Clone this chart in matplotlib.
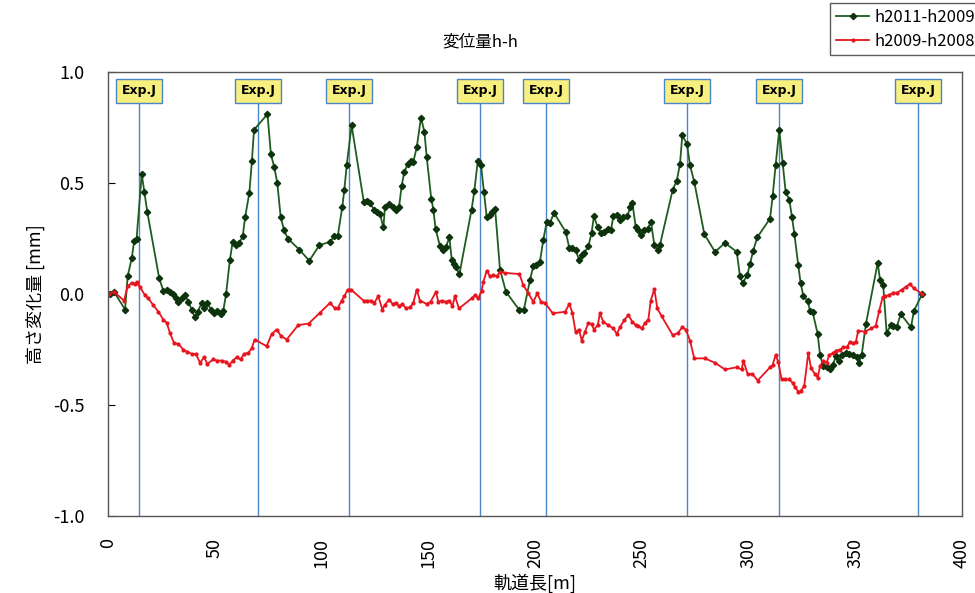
import matplotlib
matplotlib.use('Agg')
import matplotlib.pyplot as plt

plt.rcParams['font.family'] = ['Noto Sans CJK JP', 'DejaVu Sans']

# h2011-h2009
green_x = [0.9, 2.8, 8.0, 9.2, 11.1, 12.3, 13.4, 15.8, 17.0, 18.4, 24.0, 25.9, 27.5, 29.0, 30.3,
           31.9, 32.9, 34.5, 36.1, 37.6, 39.2, 40.7, 42.0, 43.9, 45.1, 46.5, 48.2, 49.6, 51.2, 52.8,
           54.0, 55.3, 57.1, 58.4, 59.8, 61.5, 63.1, 64.2, 66.2, 67.4, 68.4, 74.7, 76.3, 77.9, 79.3,
           80.9, 82.4, 84.2, 89.6, 94.3, 99.0, 104.0, 105.9, 107.6, 109.7, 110.7, 111.8, 114.1, 119.8,
           121.2, 122.7, 124.6, 125.8, 127.4, 129.0, 129.7, 131.6, 133.3, 134.7, 136.3, 137.5, 138.8,
           140.4, 141.8, 143.0, 144.6, 146.6, 148.2, 149.3, 151.4, 152.4, 153.4, 155.5, 156.8, 158.2,
           159.9, 161.0, 162.1, 163.0, 164.6, 170.3, 171.6, 173.2, 174.7, 176.1, 177.4, 178.9, 180.0,
           181.3, 183.6, 186.4, 192.5, 194.8, 197.7, 199.2, 200.5, 202.3, 203.9, 205.5, 207.0, 208.9,
           214.4, 216.1, 217.5, 219.0, 220.6, 221.9, 223.1, 225.0, 226.5, 227.6, 229.4, 230.9, 232.5,
           234.3, 235.6, 236.7, 238.3, 239.8, 241.4, 243.3, 244.5, 245.6, 247.2, 248.4, 249.6, 251.2,
           252.8, 254.3, 255.9, 257.5, 258.5, 264.5, 266.4, 267.9, 269.0, 271.2, 272.6, 274.6, 279.3,
           284.3, 289.0, 294.5, 296.0, 297.3, 299.4, 300.7, 302.2, 304.1, 310.1, 311.3, 312.7, 314.4,
           316.0, 317.4, 319.1, 320.4, 321.5, 323.3, 324.4, 325.7, 327.7, 328.8, 330.0, 332.4, 333.5,
           335.0, 336.6, 338.2, 339.4, 341.0, 342.5, 343.9, 345.7, 347.2, 349.1, 350.7, 351.6, 353.0,
           355.0, 360.5, 361.6, 363.1, 364.7, 366.7, 367.8, 369.4, 371.3, 376.1, 377.5, 381.4]
green_y = [0.00, 0.01, -0.07, 0.08, 0.16, 0.24, 0.25, 0.54, 0.46, 0.37, 0.07, 0.015, 0.02, 0.01, 0.00,
           -0.02, -0.035, -0.02, -0.005, -0.035, -0.07, -0.105, -0.08, -0.04, -0.065, -0.04, -0.07, -0.085, -0.075, -0.09,
           -0.075, 0.00, 0.155, 0.235, 0.22, 0.23, 0.26, 0.345, 0.455, 0.60, 0.74, 0.81, 0.63, 0.57, 0.50,
           0.345, 0.29, 0.25, 0.20, 0.15, 0.22, 0.235, 0.26, 0.26, 0.39, 0.47, 0.58, 0.76, 0.415,
           0.42, 0.41, 0.38, 0.37, 0.36, 0.30, 0.39, 0.405, 0.39, 0.38, 0.39, 0.485, 0.55,
           0.585, 0.60, 0.595, 0.66, 0.795, 0.73, 0.615, 0.43, 0.38, 0.295, 0.215, 0.20, 0.21,
           0.255, 0.155, 0.135, 0.12, 0.09, 0.38, 0.465, 0.60, 0.58, 0.46, 0.345, 0.355, 0.37,
           0.385, 0.11, 0.01, -0.07, -0.07, 0.065, 0.125, 0.13, 0.145, 0.245, 0.325, 0.32, 0.365,
           0.28, 0.205, 0.205, 0.20, 0.155, 0.175, 0.185, 0.215, 0.275, 0.35, 0.30, 0.275, 0.28,
           0.295, 0.29, 0.35, 0.355, 0.335, 0.345, 0.35, 0.39, 0.41, 0.30, 0.29, 0.265, 0.29,
           0.295, 0.325, 0.22, 0.20, 0.22, 0.47, 0.51, 0.585, 0.715, 0.675, 0.58, 0.505, 0.27,
           0.19, 0.23, 0.19, 0.08, 0.05, 0.085, 0.135, 0.195, 0.255, 0.34, 0.44, 0.58, 0.74,
           0.59, 0.46, 0.425, 0.345, 0.27, 0.13, 0.05, -0.01, -0.03, -0.075, -0.08, -0.18, -0.275,
           -0.325, -0.33, -0.34, -0.32, -0.28, -0.30, -0.275, -0.265, -0.27, -0.275, -0.285, -0.31, -0.275,
           -0.135, 0.14, 0.065, 0.04, -0.175, -0.14, -0.145, -0.15, -0.09, -0.15, -0.075, 0.00]

# h2009-h2008
red_x = [0.6, 2.8, 7.5, 9.2, 11.1, 12.6, 13.4, 15.0, 17.3, 18.9, 21.2, 23.6, 25.9, 27.5, 29.0,
         30.9, 32.9, 35.3, 37.1, 39.2, 41.2, 43.1, 45.0, 46.5, 49.3, 51.2, 53.2, 55.3, 56.8, 58.4,
         60.3, 62.1, 63.7, 65.7, 67.3, 68.7, 74.3, 76.7, 79.0, 81.1, 83.7, 89.1, 94.0, 99.1, 104.0,
         106.3, 107.6, 109.4, 110.7, 112.3, 113.8, 119.7, 121.2, 123.2, 124.7, 126.6, 128.5, 129.7,
         131.6, 133.3, 134.9, 136.3, 137.9, 139.6, 141.5, 143.0, 144.6, 146.1, 149.3, 151.1, 153.6,
         154.7, 156.3, 158.2, 159.9, 161.3, 162.5, 164.4, 170.3, 171.9, 173.4, 175.0, 175.8, 177.4,
         178.9, 180.5, 182.1, 183.6, 186.0, 192.7, 194.5, 196.9, 199.2, 201.1, 202.8, 204.7, 208.3,
         214.1, 216.1, 217.5, 219.0, 220.6, 221.9, 223.4, 225.0, 226.5, 227.6, 229.4, 230.4, 232.0,
         234.3, 236.7, 238.3, 239.8, 241.8, 243.7, 245.6, 247.2, 248.4, 250.0, 251.5, 253.1, 254.2,
         255.9, 257.3, 259.3, 264.5, 266.8, 269.0, 270.6, 272.6, 274.6, 279.6, 284.3, 289.0, 294.5,
         296.8, 297.6, 299.6, 301.8, 304.3, 310.1, 311.3, 312.7, 313.9, 315.5, 317.1, 319.1, 320.7,
         321.8, 323.3, 324.4, 326.1, 328.0, 329.3, 331.1, 332.4, 333.5, 335.0, 336.6, 337.8, 339.4,
         341.0, 342.9, 344.4, 346.3, 347.5, 348.8, 350.3, 351.4, 354.5, 357.6, 359.6, 361.2, 362.8,
         363.9, 365.9, 367.8, 369.7, 371.8, 373.8, 375.6, 377.5, 381.4]
red_y = [0.0, 0.01, -0.03, 0.035, 0.05, 0.045, 0.055, 0.03, -0.005, -0.02, -0.05, -0.08, -0.115, -0.13, -0.175,
         -0.22, -0.225, -0.25, -0.26, -0.27, -0.27, -0.31, -0.285, -0.315, -0.295, -0.30, -0.30, -0.305, -0.32, -0.30,
         -0.285, -0.295, -0.27, -0.265, -0.245, -0.205, -0.235, -0.18, -0.16, -0.19, -0.205, -0.14, -0.133, -0.086, -0.04,
         -0.065, -0.065, -0.03, -0.01, 0.02, 0.02, -0.03, -0.03, -0.03, -0.04, -0.01, -0.07, -0.05,
         -0.025, -0.045, -0.04, -0.055, -0.045, -0.065, -0.06, -0.04, 0.02, -0.03, -0.045, -0.035, 0.01,
         -0.035, -0.03, -0.035, -0.03, -0.055, -0.01, -0.065, -0.02, -0.005, -0.02, 0.015, 0.055, 0.105,
         0.08, 0.085, 0.08, 0.10, 0.095, 0.09, 0.04, 0.003, -0.035, 0.003, -0.035, -0.04, -0.087,
         -0.08, -0.045, -0.085, -0.17, -0.16, -0.21, -0.17, -0.13, -0.135, -0.16, -0.14, -0.087, -0.125,
         -0.14, -0.155, -0.18, -0.15, -0.117, -0.095, -0.125, -0.14, -0.145, -0.155, -0.13, -0.115, -0.03,
         0.022, -0.065, -0.10, -0.185, -0.177, -0.15, -0.16, -0.21, -0.29, -0.29, -0.31, -0.34, -0.33,
         -0.34, -0.30, -0.36, -0.36, -0.39, -0.33, -0.32, -0.275, -0.305, -0.385, -0.385, -0.385, -0.40,
         -0.42, -0.44, -0.437, -0.415, -0.265, -0.335, -0.36, -0.377, -0.325, -0.30, -0.31, -0.275, -0.267,
         -0.255, -0.25, -0.24, -0.237, -0.215, -0.222, -0.215, -0.165, -0.17, -0.155, -0.143, -0.077, -0.015,
         -0.01, -0.005, 0.006, 0.006, 0.02, 0.033, 0.045, 0.025, 0.0]

# expansion joints
exp_j = [14.5, 70.3, 112.9, 174.2, 205.2, 271.2, 314.3, 379.4]

fig = plt.figure(figsize=(9.75, 5.93), dpi=100)
ax = fig.add_axes([108 / 975, 1 - 516 / 593, 854 / 975, 444 / 593])

ax.vlines(exp_j, -1.0, 0.9, colors='#4a86c8', linewidth=1.0, zorder=1)
for xj in exp_j:
    ax.text(xj, 0.915, 'Exp.J', ha='center', va='center', fontsize=9, fontweight='bold',
            family=['DejaVu Sans'],
            bbox=dict(boxstyle='square,pad=0.45', fc='#f7ef7e', ec='#4a86c8', lw=1.0), zorder=3)

ax.plot(green_x, green_y, color='#1f5c1f', lw=1.3, marker='D', ms=3.2,
        mfc='#0d330d', mec='#0d330d', label='h2011-h2009', zorder=2)
ax.plot(red_x, red_y, color='#e8141e', lw=1.3, marker='o', ms=2.0,
        mfc='#e8141e', mec='#e8141e', label='h2009-h2008', zorder=2)

ax.set_xlim(0, 400)
ax.set_ylim(-1.0, 1.0)
ax.set_xticks(range(0, 401, 50))
ax.set_yticks([-1.0, -0.5, 0.0, 0.5, 1.0])
ax.set_yticklabels(['-1.0', '-0.5', '0.0', '0.5', '1.0'])
ax.tick_params(axis='x', length=0, pad=16, labelsize=13, labelrotation=90)
ax.tick_params(axis='y', direction='in', length=5, pad=17, labelsize=13)
for s in ax.spines.values():
    s.set_color('#555555')
    s.set_linewidth(1.0)

ax.set_xlabel('軌道長[m]', fontsize=13, labelpad=4)
ax.set_ylabel('高さ変化量 [mm]', fontsize=13, labelpad=6)
fig.text(480 / 975, 1 - 42 / 593, '変位量h-h', ha='center', va='center', fontsize=12)

fig.legend(loc='upper left', bbox_to_anchor=(830 / 975, 1 - 3 / 593), fontsize=12,
           frameon=True, fancybox=False, edgecolor='#333333', handlelength=2.0,
           borderpad=0.35, labelspacing=0.4, handletextpad=0.3, borderaxespad=0)

fig.savefig('out.png', dpi=100, facecolor='white')
